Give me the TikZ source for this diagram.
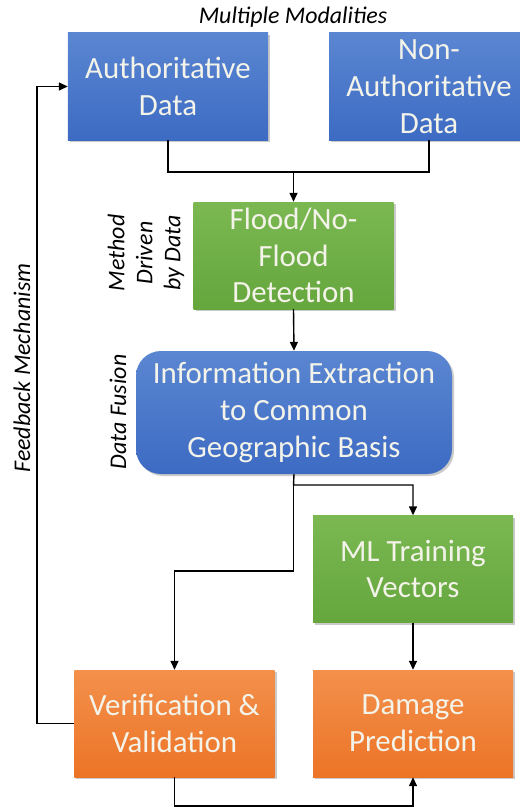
\documentclass[tikz,border=0pt]{standalone}
\usepackage{fontspec}
\setmainfont{Carlito}
\usetikzlibrary{positioning, arrows.meta, shadows}
\definecolor{ffbluetop}{HTML}{5A86D1}
\definecolor{ffbluebot}{HTML}{3D6BC3}
\definecolor{ffgreentop}{HTML}{7BB852}
\definecolor{ffgreenbot}{HTML}{65A63D}
\definecolor{fforangetop}{HTML}{F3904B}
\definecolor{fforangebot}{HTML}{EC7427}
\definecolor{fftext}{HTML}{F3F3EA}

\begin{document}
\begin{tikzpicture}[
      x=1bp, y=-1bp,
      every node/.style={font=\fontsize{31}{37}\selectfont},
      box/.style={minimum width=200bp, minimum height=107bp, align=center,
                  inner sep=2pt, text=fftext,
                  drop shadow={shadow xshift=2bp, shadow yshift=-2bp,
                               opacity=.35, fill=black!60}},
      bluebox/.style={box, top color=ffbluetop, bottom color=ffbluebot},
      greenbox/.style={box, top color=ffgreentop, bottom color=ffgreenbot},
      orangebox/.style={box, top color=fforangetop, bottom color=fforangebot},
      note/.style={font=\fontsize{24}{28}\selectfont\itshape, align=center},
      line/.style={line width=1.4bp},
      >={Triangle[length=9bp, width=8bp]},
    ]
    \useasboundingbox (0,0) rectangle (520,807);

    \node[bluebox]   (auth)    at (168, 86.5) {Authoritative\\Data};
    \node[bluebox]   (nonauth) at (429, 86.5) {Non-\\Authoritative\\Data};
    \node[greenbox]  (flood)   at (293.5, 255.5) {Flood/No-\\Flood\\Detection};
    \node[bluebox, minimum width=316bp, minimum height=123bp,
          rounded corners=25bp] (info) at (294, 412.5)
      {Information Extraction\\to Common\\Geographic Basis};
    \node[greenbox]  (ml)      at (413, 569) {ML Training\\Vectors};
    \node[orangebox] (verif)   at (174.5, 723.5) {Verification \&\\Validation};
    \node[orangebox] (damage)  at (413, 723.5) {Damage\\Prediction};

    \node[note] (modal)  at (293, 17) {Multiple Modalities};
    \node[note, rotate=90] (method) at (146, 253) {Method\\Driven\\by Data};
    \node[note, rotate=90] (fusion) at (118, 412) {Data Fusion};
    \node[note, rotate=90] (feedback) at (22, 368) {Feedback Mechanism};

    \coordinate (join)  at (293.5, 172);
    \coordinate (split) at (293.5, 485);
    \coordinate (bend)  at (293.5, 571);
    \coordinate (low)   at (174.5, 806);
    \coordinate (fb)    at (37, 86.5);

    \draw[line] (auth.south) |- (join);
    \draw[line] (nonauth.south) |- (join);
    \draw[line, ->] (join) -- (flood.north);
    \draw[line, ->] (flood.south) -- (info.north);
    \draw[line, ->] (info.south) -- (split) -| (ml.north);
    \draw[line, ->] (split) -- (bend) -| (verif.north);
    \draw[line, ->] (ml.south) -- (damage.north);
    \draw[line, ->] (verif.south) -- (low) -| (damage.south);
    \draw[line, ->] (verif.west) -| (fb) -- (auth.west);
  \end{tikzpicture}
\end{document}
